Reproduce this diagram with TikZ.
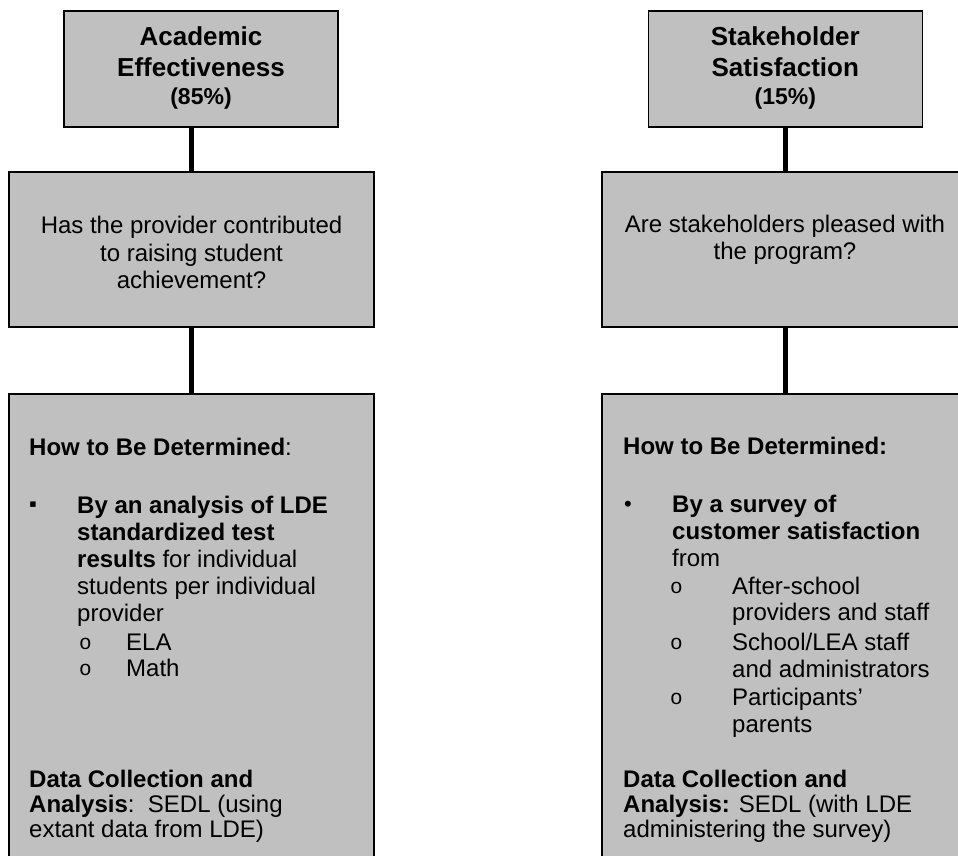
\documentclass[tikz,border=0pt]{standalone}
\usepackage{fontspec}
\setmainfont{Liberation Sans}
\newfontfamily\monofnt{Liberation Mono}
\definecolor{boxgray}{HTML}{C0C0C0}
\begin{document}
\begin{tikzpicture}[x=1pt,y=-1pt,
  box/.style={draw=black, line width=1.6pt, fill=boxgray, rectangle, inner sep=0pt},
  link/.style={line width=5pt, draw=black},
  tl/.style={anchor=base west, inner sep=0pt, font=\fontsize{24}{27}\selectfont},
  tc/.style={anchor=base, inner sep=0pt, font=\fontsize{24}{27}\selectfont},
  ttl/.style={anchor=base, inner sep=0pt, font=\fontsize{26}{30}\selectfont\bfseries},
  pct/.style={anchor=base, inner sep=0pt, font=\fontsize{23}{27}\selectfont\bfseries},
  sq/.style={anchor=base west, inner sep=0pt, font=\fontsize{22}{24}\selectfont},
  ob/.style={anchor=base west, inner sep=0pt, font=\fontsize{21}{24}\selectfont\monofnt},
]
\useasboundingbox (0,0) rectangle (958,856);
\clip (0,0) rectangle (958,856);
\fill[white] (0,0) rectangle (958,856);

% boxes
\node[box, minimum width=274pt, minimum height=116pt] (ltop) at (201,69) {};
\node[box, minimum width=365pt, minimum height=155pt] (lmid) at (191.5,249.5) {};
\node[box, minimum width=365pt, minimum height=510pt] (lbot) at (191.5,649) {};
\node[box, minimum width=274pt, minimum height=116pt] (rtop) at (785.3,69) {};
\node[box, minimum width=366pt, minimum height=155pt] (rmid) at (785,249.5) {};
\node[box, minimum width=366pt, minimum height=510pt] (rbot) at (785,649) {};

% connectors
\draw[link] (lmid.north |- ltop.south) -- (lmid.north);
\draw[link] (lmid.south) -- (lbot.north);
\draw[link] (rmid.north |- rtop.south) -- (rmid.north);
\draw[link] (rmid.south) -- (rbot.north);

% top titles
\node[ttl] (lt1) at (201,45.5) {Academic};
\node[ttl] (lt2) at (201,77) {Effectiveness};
\node[pct] (lt3) at (201,105) {(85\%)};
\node[ttl] (rt1) at (785.3,45.5) {Stakeholder};
\node[ttl] (rt2) at (785.3,77) {Satisfaction};
\node[pct] (rt3) at (785.3,105) {(15\%)};

% middle questions
\node[tc] (lq1) at (191.5,233.5) {Has the provider contributed};
\node[tc] (lq2) at (191.5,261) {to raising student};
\node[tc] (lq3) at (191.5,288) {achievement?};
\node[tc] (rq1) at (785,232) {Are stakeholders pleased with};
\node[tc] (rq2) at (785,259.5) {the program?};

% left bottom text
\node[tl] (lh) at (29,455) {\textbf{How to Be Determined}:};
\node[sq] (lb0) at (29,511) {▪};
\node[tl] (lb1) at (77,513) {\textbf{By an analysis of LDE}};
\node[tl] (lb2) at (77,540) {\textbf{standardized test}};
\node[tl] (lb3) at (77,567) {\textbf{results} for individual};
\node[tl] (lb4) at (77,594) {students per individual};
\node[tl] (lb5) at (77,621) {provider};
\node[ob] (lo1) at (79,649) {o};
\node[tl] (lb6) at (126,650) {ELA};
\node[ob] (lo2) at (79,675) {o};
\node[tl] (lb7) at (126,676) {Math};
\node[tl] (ld1) at (29,787) {\textbf{Data Collection and}};
\node[tl] (ld2) at (29,812) {\textbf{Analysis}:\ \ SEDL (using};
\node[tl] (ld3) at (29,837) {extant data from LDE)};

% right bottom text
\node[tl] (rh) at (623,454) {\textbf{How to Be Determined:}};
\node[sq] (rb0) at (624,511) {•};
\node[tl] (rb1) at (672,512) {\textbf{By a survey of}};
\node[tl] (rb2) at (672,539.5) {\textbf{customer satisfaction}};
\node[tl] (rb3) at (672,566) {from};
\node[ob] (ro1) at (670,593) {o};
\node[tl] (rb4) at (732,594) {After-school};
\node[tl] (rb5) at (732,620.5) {providers and staff};
\node[ob] (ro2) at (670,649) {o};
\node[tl] (rb6) at (732,650) {School/LEA staff};
\node[tl] (rb7) at (732,677) {and administrators};
\node[ob] (ro3) at (670,704) {o};
\node[tl] (rb8) at (732,705) {Participants’};
\node[tl] (rb9) at (732,732) {parents};
\node[tl] (rd1) at (623,787) {\textbf{Data Collection and}};
\node[tl] (rd2) at (623,812) {\textbf{Analysis:} SEDL (with LDE};
\node[tl] (rd3) at (623,837) {administering the survey)};
\end{tikzpicture}
\end{document}
